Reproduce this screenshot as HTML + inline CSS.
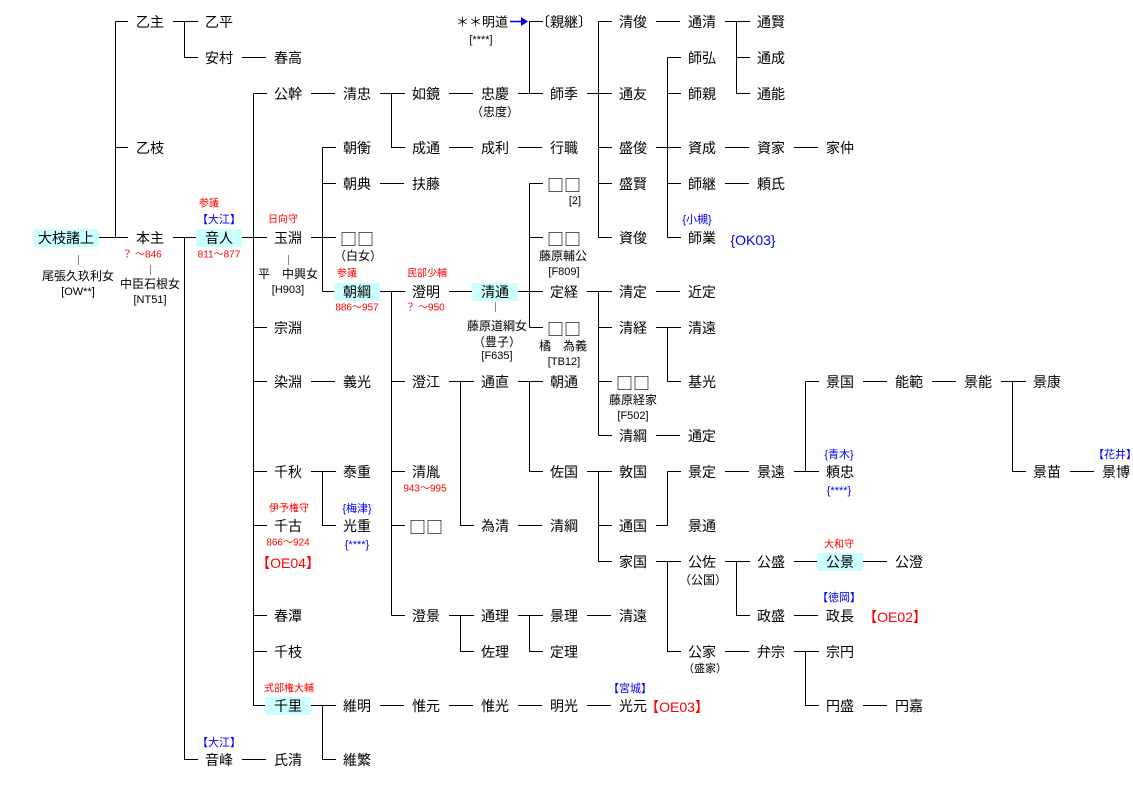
<!DOCTYPE html>
<html><head><meta charset="utf-8"><style>
html,body{margin:0;padding:0;background:#fff;}
svg{display:block;font-family:"Liberation Sans","Noto Sans CJK JP",sans-serif;}
text{dominant-baseline:central;text-anchor:middle;}
.n{font-size:14px;fill:#000;}
.s{font-size:11px;fill:#000;}
.r{font-size:10px;fill:#f00;}
.b{font-size:11px;fill:#00f;}
.rb{font-size:14px;fill:#f00;}
.bb{font-size:14px;fill:#00f;}
.q{font-family:"Noto Sans CJK JP",sans-serif;font-size:17px;}
</style></head><body>
<svg width="1133" height="788" viewBox="0 0 1133 788">
<g fill="#ccffff">
<rect x="34" y="229" width="65" height="18"/>
<rect x="196" y="229" width="46" height="18"/>
<rect x="334" y="283" width="46" height="18"/>
<rect x="472" y="283" width="46" height="18"/>
<rect x="817" y="553" width="46" height="18"/>
<rect x="265" y="697" width="46" height="18"/>
</g>
<g stroke="#000" stroke-width="1" fill="none">
<path d="M99 237.5H128M115.5 21.5V237.5M115.5 21.5H128M115.5 147.5H128"/>
<path d="M173 21.5H184.5M184.5 21.5V57.5H198M184.5 21.5H198M242 57.5H266"/>
<path d="M173 237.5H196M184.5 237.5V759.5H198M242 759.5H266"/>
<path d="M242 237.5H267M253.5 93.5V705.5M253.5 93.5H267M253.5 327.5H267M253.5 381.5H267M253.5 471.5H267M253.5 525.5H267M253.5 615.5H267M253.5 651.5H267M253.5 705.5H265"/>
<path d="M311 93.5H335M380 93.5H391.5M391.5 93.5V147.5H405M391.5 93.5H405M449 93.5H473"/>
<path d="M518 93.5H543M529.5 21.5V93.5M529.5 21.5H543"/>
<path d="M449 147.5H473M518 147.5H542"/>
<path d="M587 93.5H612M598.5 21.5V237.5M598.5 21.5H612M598.5 147.5H612M598.5 183.5H612M598.5 237.5H612"/>
<path d="M656 21.5H680M725 21.5H750M736.5 21.5V93.5M736.5 57.5H750M736.5 93.5H750"/>
<path d="M656 147.5H681M667.5 57.5V237.5M667.5 57.5H681M667.5 93.5H681M667.5 183.5H681M667.5 237.5H681"/>
<path d="M725 147.5H749M794 147.5H818M725 183.5H749"/>
<path d="M311 237.5H336M322.5 147.5V291.5M322.5 147.5H336M322.5 183.5H336M322.5 291.5H334M380 183.5H404"/>
<path d="M380 291.5H405M391.5 291.5V615.5M391.5 381.5H405M391.5 471.5H405M391.5 525.5H405M391.5 615.5H405"/>
<path d="M449 291.5H472M518 291.5H543M529.5 183.5V327.5M529.5 183.5H543M529.5 237.5H543M529.5 327.5H543"/>
<path d="M587 291.5H612M598.5 291.5V435.5M598.5 327.5H612M598.5 381.5H612M598.5 435.5H612"/>
<path d="M656 291.5H680M656 327.5H681M667.5 327.5V381.5H681M656 435.5H680"/>
<path d="M311 381.5H335M449 381.5H474M460.5 381.5V525.5H474M518 381.5H543M529.5 381.5V471.5H543M518 525.5H542"/>
<path d="M587 471.5H612M598.5 471.5V561.5H612M598.5 525.5H612"/>
<path d="M656 525.5H667.5M667.5 471.5V525.5M667.5 471.5H681M725 471.5H749"/>
<path d="M794 471.5H819M805.5 381.5V471.5M805.5 381.5H819M863 381.5H887M932 381.5H956M1001 381.5H1026M1012.5 381.5V471.5H1026M1070 471.5H1094"/>
<path d="M656 561.5H681M667.5 561.5V651.5H681M725 561.5H750M736.5 561.5V615.5H750M794 561.5H817M863 561.5H887M794 615.5H818"/>
<path d="M725 651.5H749M794 651.5H819M805.5 651.5V705.5H819M863 705.5H887"/>
<path d="M449 615.5H474M460.5 615.5V651.5H474M518 615.5H543M529.5 615.5V651.5H543M587 615.5H611"/>
<path d="M311 471.5H336M322.5 471.5V525.5H336"/>
<path d="M311 705.5H336M322.5 705.5V759.5H336M380 705.5H404M449 705.5H473M518 705.5H542M587 705.5H611"/>
</g>
<g stroke="#888" stroke-width="1">
<path d="M78.5 255V265M150.5 265V275M288.5 255V265M495.5 302V312"/>
</g>
<path d="M510 21.5H522" stroke="#00f" stroke-width="1.5"/>
<path d="M521 17L528 21.5L521 26Z" fill="#00f"/>
<g class="n">
<text x="66" y="238">大枝諸上</text>
<text x="150" y="22">乙主</text><text x="219" y="22">乙平</text>
<text x="219" y="58">安村</text><text x="288" y="58">春高</text>
<text x="150" y="148">乙枝</text>
<text x="150" y="238">本主</text><text x="219" y="238">音人</text>
<text x="288" y="94">公幹</text><text x="357" y="94">清忠</text><text x="426" y="94">如鏡</text><text x="495" y="94">忠慶</text><text x="564" y="94">師季</text>
<text x="482" y="22" style="font-size:13px">＊＊明道</text>
<text x="564" y="22">〔親継〕</text>
<text x="633" y="22">清俊</text><text x="702" y="22">通清</text><text x="771" y="22">通賢</text>
<text x="702" y="58">師弘</text><text x="771" y="58">通成</text>
<text x="633" y="94">通友</text><text x="702" y="94">師親</text><text x="771" y="94">通能</text>
<text x="357" y="148">朝衡</text><text x="426" y="148">成通</text><text x="495" y="148">成利</text><text x="564" y="148">行職</text>
<text x="633" y="148">盛俊</text><text x="702" y="148">資成</text><text x="771" y="148">資家</text><text x="840" y="148">家仲</text>
<text x="357" y="184">朝典</text><text x="426" y="184">扶藤</text><text class="q" x="564" y="184">□□</text>
<text x="633" y="184">盛賢</text><text x="702" y="184">師継</text><text x="771" y="184">頼氏</text>
<text x="288" y="238">玉淵</text><text class="q" x="357" y="238">□□</text><text class="q" x="564" y="238">□□</text>
<text x="633" y="238">資俊</text><text x="702" y="238">師業</text>
<text x="357" y="292">朝綱</text><text x="426" y="292">澄明</text><text x="495" y="292">清通</text><text x="564" y="292">定経</text>
<text x="633" y="292">清定</text><text x="702" y="292">近定</text>
<text x="288" y="328">宗淵</text><text class="q" x="564" y="328">□□</text><text x="633" y="328">清経</text><text x="702" y="328">清遠</text>
<text x="288" y="382">染淵</text><text x="357" y="382">義光</text><text x="426" y="382">澄江</text><text x="495" y="382">通直</text><text x="564" y="382">朝通</text>
<text class="q" x="633" y="382">□□</text><text x="702" y="382">基光</text>
<text x="840" y="382">景国</text><text x="909" y="382">能範</text><text x="978" y="382">景能</text><text x="1047" y="382">景康</text>
<text x="633" y="436">清綱</text><text x="702" y="436">通定</text>
<text x="288" y="472">千秋</text><text x="357" y="472">泰重</text><text x="426" y="472">清胤</text><text x="564" y="472">佐国</text>
<text x="633" y="472">敦国</text><text x="702" y="472">景定</text><text x="771" y="472">景遠</text><text x="840" y="472">頼忠</text>
<text x="1047" y="472">景苗</text><text x="1116" y="472">景博</text>
<text x="288" y="526">千古</text><text x="357" y="526">光重</text><text class="q" x="426" y="526">□□</text><text x="495" y="526">為清</text><text x="564" y="526">清綱</text>
<text x="633" y="526">通国</text><text x="702" y="526">景通</text>
<text x="633" y="562">家国</text><text x="702" y="562">公佐</text><text x="771" y="562">公盛</text><text x="840" y="562">公景</text><text x="909" y="562">公澄</text>
<text x="288" y="616">春潭</text><text x="426" y="616">澄景</text><text x="495" y="616">通理</text><text x="564" y="616">景理</text><text x="633" y="616">清遠</text>
<text x="771" y="616">政盛</text><text x="840" y="616">政長</text>
<text x="288" y="652">千枝</text><text x="495" y="652">佐理</text><text x="564" y="652">定理</text>
<text x="702" y="652">公家</text><text x="771" y="652">弁宗</text><text x="840" y="652">宗円</text>
<text x="288" y="706">千里</text><text x="357" y="706">維明</text><text x="426" y="706">惟元</text><text x="495" y="706">惟光</text><text x="564" y="706">明光</text><text x="633" y="706">光元</text>
<text x="840" y="706">円盛</text><text x="909" y="706">円嘉</text>
<text x="219" y="760">音峰</text><text x="288" y="760">氏清</text><text x="357" y="760">維繁</text>
</g>
<g class="s">
<text x="481" y="40">[****]</text>
<text x="78" y="276" style="font-size:12px">尾張久玖利女</text><text x="78" y="292">[OW**]</text>
<text x="150" y="284" style="font-size:12px">中臣石根女</text><text x="150" y="300">[NT51]</text>
<text x="288" y="274" style="font-size:12px">平　中興女</text><text x="288" y="290">[H903]</text>
<text x="358" y="256" style="font-size:12px">（白女）</text>
<text x="497" y="326" style="font-size:12px">藤原道綱女</text><text x="497" y="342" style="font-size:12px">（豊子）</text><text x="497" y="356">[F635]</text>
<text x="575" y="201">[2]</text>
<text x="563" y="256" style="font-size:12px">藤原輔公</text><text x="564" y="272">[F809]</text>
<text x="563" y="346" style="font-size:12px">橘　為義</text><text x="564" y="362">[TB12]</text>
<text x="633" y="400" style="font-size:12px">藤原経家</text><text x="633" y="416">[F502]</text>
<text x="495" y="112" style="font-size:12px">（忠度）</text>
<text x="703" y="580" style="font-size:12px">（公国）</text>
<text x="705" y="669">（盛家）</text>
</g>
<g class="r">
<text x="209" y="204">参議</text>
<text x="219" y="255">811〜877</text>
<text x="142" y="255">？ 〜846</text>
<text x="283" y="220">日向守</text>
<text x="347" y="274">参議</text>
<text x="357" y="308">886〜957</text>
<text x="427" y="274">民部少輔</text>
<text x="425" y="308">？ 〜950</text>
<text x="425" y="489">943〜995</text>
<text x="289" y="509">伊予権守</text>
<text x="288" y="543">866〜924</text>
<text x="839" y="545">大和守</text>
<text x="289" y="689">式部権大輔</text>
</g>
<g class="b">
<text x="219" y="220">【大江】</text>
<text x="697" y="220">{小槻}</text>
<text x="357" y="509">{梅津}</text>
<text x="357" y="545">{****}</text>
<text x="839" y="455">{青木}</text>
<text x="839" y="491">{****}</text>
<text x="1115" y="455">【花井】</text>
<text x="839" y="598">【徳岡】</text>
<text x="630" y="689">【宮城】</text>
<text x="219" y="743">【大江】</text>
</g>
<text class="bb" x="753" y="240">{OK03}</text>
<text class="rb" x="288" y="563">【OE04】</text>
<text class="rb" x="895" y="617">【OE02】</text>
<text class="rb" x="677" y="707">【OE03】</text>
</svg>
</body></html>
